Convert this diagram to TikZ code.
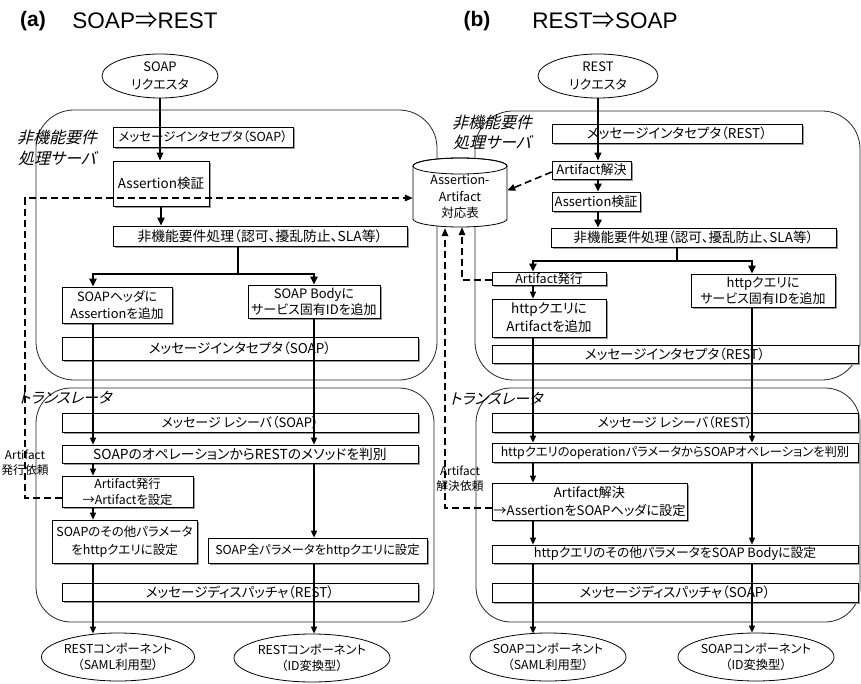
\documentclass[tikz,border=0pt]{standalone}
\usepackage{fontspec}
\setmainfont{Noto Sans CJK JP}[RawFeature={+palt}]
\newfontfamily\slantjp{Noto Sans CJK JP}[FakeSlant=0.25,RawFeature={+palt}]
\newfontfamily\titlefont{Liberation Sans}
\usetikzlibrary{arrows.meta,shapes.geometric,shadows}
\newcommand\myfs[2]{\fontsize{#1}{#2}\selectfont}

\begin{document}
\begin{tikzpicture}[x=1pt,y=-1pt,
  box/.style={draw=black, fill=white, line width=0.7pt, inner sep=0.5pt, align=center,
    font=\myfs{12.5}{15},
    drop shadow={shadow xshift=1.6pt, shadow yshift=-1.6pt, fill=black!40, opacity=1}},
  wh/.style 2 args={minimum width=#1pt, minimum height=#2pt},
  comp/.style={ellipse, draw=black, fill=white, line width=0.8pt, inner sep=0pt,
    align=center, font=\myfs{12.3}{16}},
  region/.style={draw=black!85, line width=0.8pt},
  lbl/.style={font=\slantjp\myfs{16}{21}, align=center, inner sep=0pt},
  note/.style={font=\myfs{11.8}{15}, align=center, inner sep=0pt},
  ttl/.style={font=\myfs{22.5}{24}, inner sep=0pt},
  flow/.style={line width=1.3pt, -{Triangle[length=7pt,width=6pt]}},
  flowr/.style={line width=1.8pt, -{Triangle[length=8pt,width=6.5pt]}},
  flowt/.style={line width=2.2pt, -{Triangle[length=8pt,width=7pt]}},
  plain/.style={line width=1.3pt},
  dasharr/.style={line width=1.6pt, dash pattern=on 7pt off 4pt,
    -{Triangle[length=8pt,width=6.5pt]}},
]
\useasboundingbox[fill=white] (0,0) rectangle (861,684);

% ---------- titles ----------
\node[ttl, font=\titlefont\bfseries\myfs{21}{24}] (ta) at (33,21) {(a)};
\node[ttl] (tta) at (145,21) {{\titlefont SOAP}⇒{\titlefont REST}};
\node[ttl, font=\titlefont\bfseries\myfs{21}{24}] (tb) at (477,21) {(b)};
\node[ttl] (ttb) at (605,21) {{\titlefont REST}⇒{\titlefont SOAP}};

% ---------- server / translator regions ----------
\draw[region, rounded corners=38pt] (36,110) rectangle (437,380);
\draw[region, rounded corners=35pt] (36,388) rectangle (434,622);
\draw[region, rounded corners=38pt] (475,111) rectangle (860,380);
\draw[region, rounded corners=35pt] (476,388) rectangle (860,622);

\node[lbl] (lsa) at (57,148) {非機能要件\\処理サーバ};
\node[lbl, font=\slantjp\myfs{15}{20}] (lta) at (65,398) {トランスレータ};
\node[lbl, font=\slantjp\myfs{16}{20}] (lsb) at (492,132) {非機能要件\\処理サーバ};
\node[lbl, font=\slantjp\myfs{15}{20}] (ltb) at (496,399) {トランスレータ};

% ---------- shared Assertion-Artifact table ----------
\path[draw=black, line width=0.8pt, fill=white]
  (413,166) -- (413,219)
  arc[start angle=180, end angle=360, x radius=47pt, y radius=8pt]
  -- (507,166)
  arc[start angle=0, end angle=180, x radius=47pt, y radius=8pt] -- cycle;
\draw[line width=0.8pt] (460,166) ellipse [x radius=47pt, y radius=8pt];
\node[minimum width=94pt, minimum height=69pt, inner sep=0pt] (db) at (460,192.5) {};
\node[note, font=\myfs{12.5}{16.5}] (dbt) at (460,197) {Assertion-\\Artifact\\対応表};

% ---------- (a) SOAP => REST ----------
\node[comp, minimum width=116pt, minimum height=44pt, font=\myfs{13}{18}] (req_a) at (160,76) {SOAP\\リクエスタ};
\node[box, wh={180}{20}] (ia1) at (203,137) {メッセージインタセプタ（SOAP）};
\node[box, wh={96}{45}, font=\myfs{13.5}{15}] (asv) at (161,183.5) {Assertion検証};
\node[box, wh={294}{20}, font=\myfs{13.8}{15}] (sla_a) at (260,236) {非機能要件処理（認可、擾乱防止、SLA等）};
\node[box, wh={110}{36}, font=\myfs{12.8}{17}] (hdr) at (117,305) {SOAPヘッダに\\Assertionを追加};
\node[box, wh={132}{33}, font=\myfs{13}{16}] (body) at (314,301.5) {SOAP Bodyに\\サービス固有IDを追加};
\node[box, wh={356}{23}, font=\myfs{13.5}{15}] (ia2) at (240,348.5) {メッセージインタセプタ（SOAP）};
\node[box, wh={356}{19}, font=\myfs{13}{15}] (rcv_a) at (240,422.5) {メッセージ レシーバ（SOAP）};
\node[box, wh={356}{18}, font=\myfs{13.8}{15}] (op_a) at (240,454) {SOAPのオペレーションからRESTのメソッドを判別};
\node[box, wh={131}{31}, font=\myfs{12.3}{16}] (art_a) at (127.5,491.5) {Artifact発行\\→Artifactを設定};
\node[box, wh={145}{43}, font=\myfs{12.5}{18}] (oth_a) at (124.5,541.5) {SOAPのその他パラメータ\\をhttpクエリに設定};
\node[box, wh={219}{25}, font=\myfs{12.3}{15}] (all_a) at (317.5,550.5) {SOAP全パラメータをhttpクエリに設定};
\node[box, wh={356}{18}, font=\myfs{13.5}{15}] (dsp_a) at (240,592) {メッセージディスパッチャ（REST）};
\node[comp, minimum width=146pt, minimum height=48pt] (samla) at (118,657) {RESTコンポーネント\\（SAML利用型）};
\node[comp, minimum width=156pt, minimum height=48pt] (ida) at (312,658) {RESTコンポーネント\\（ID変換型）};
\node[note] (nra) at (25,463) {Artifact\\発行依頼};

\coordinate (xa) at (93,0);
\coordinate (xb) at (314,0);
\coordinate (bra) at (238,274);

\draw[flowr] (req_a.south) -- (req_a.south |- asv.north);
\draw[flowt] (asv.south) -- (asv.south |- sla_a.north);
\draw[plain] (sla_a.south -| bra) -- (bra);
\draw[flowt] (bra) -| (hdr.north -| xa);
\draw[flowt] (bra) -| (body.north -| xb);
\draw[flow] (hdr.south -| xa) -- (op_a.north -| xa);
\draw[flow] (op_a.south -| xa) -- (art_a.north -| xa);
\draw[flow] (art_a.south -| xa) -- (oth_a.north -| xa);
\draw[flow] (oth_a.south -| xa) -- ([yshift=-1pt]samla.north -| xa);
\draw[flow] (body.south -| xb) -- (op_a.north -| xb);
\draw[flow] (op_a.south -| xb) -- (all_a.north -| xb);
\draw[flow] (all_a.south -| xb) -- (ida.north -| xb);

\coordinate (da1) at (25,498);
\coordinate (da2) at (25,198);
\draw[dasharr] ([yshift=-6.5pt]art_a.west) -- (da1) -- (da2) -- (db.west |- da2);

% ---------- (b) REST => SOAP ----------
\node[comp, minimum width=120pt, minimum height=44pt, font=\myfs{13}{18}] (req_b) at (598,76) {REST\\リクエスタ};
\node[box, wh={250}{19}, font=\myfs{13.5}{15}] (ib1) at (677,133.5) {メッセージインタセプタ（REST）};
\node[box, wh={79}{18}, font=\myfs{13}{15}] (ars1) at (591.5,170) {Artifact解決};
\node[box, wh={88}{19}, font=\myfs{13}{15}] (asv_b) at (596,201.5) {Assertion検証};
\node[box, wh={285}{19}, font=\myfs{13.5}{15}] (sla_b) at (693.5,237.5) {非機能要件処理（認可、擾乱防止、SLA等）};
\node[box, wh={114}{13}, font=\myfs{12.5}{12}] (aiss) at (549,278.5) {Artifact発行};
\node[box, wh={114}{38}, font=\myfs{13.5}{18}] (hqa) at (549,318) {httpクエリに\\Artifactを追加};
\node[box, wh={144}{33}, font=\myfs{13}{16}] (hqs) at (763,290.5) {httpクエリに\\サービス固有IDを追加};
\node[box, wh={366}{18}, font=\myfs{13.5}{15}] (ib2) at (675,354) {メッセージインタセプタ（REST）};
\node[box, wh={366}{19}, font=\myfs{13}{15}] (rcv_b) at (675,422.5) {メッセージ レシーバ（REST）};
\node[box, wh={366}{19}, font=\myfs{12.3}{15}] (op_b) at (675,452.5) {httpクエリのoperationパラメータからSOAPオペレーションを判別};
\node[box, wh={195}{37}, font=\myfs{13.2}{18}] (ars2) at (589.5,501.5) {Artifact解決\\→AssertionをSOAPヘッダに設定};
\node[box, wh={366}{18}, font=\myfs{12.8}{15}] (oth_b) at (675,554) {httpクエリのその他パラメータをSOAP Bodyに設定};
\node[box, wh={366}{19}, font=\myfs{13.5}{15}] (dsp_b) at (675,592.5) {メッセージディスパッチャ（SOAP）};
\node[comp, minimum width=140pt, minimum height=48pt] (samlb) at (548,657) {SOAPコンポーネント\\（SAML利用型）};
\node[comp, minimum width=140pt, minimum height=48pt] (idb) at (756,657) {SOAPコンポーネント\\（ID変換型）};
\node[note] (nrb) at (460,479) {Artifact\\解決依頼};

\coordinate (xc) at (533,0);
\coordinate (xd) at (752,0);
\coordinate (brb) at (677,261);

\draw[flowr] (req_b.south) -- (req_b.south |- ars1.north);
\draw[flowt] (ars1.south -| req_b.south) -- (asv_b.north -| req_b.south);
\draw[flowt] (asv_b.south -| req_b.south) -- (sla_b.north -| req_b.south);
\draw[plain] (sla_b.south -| brb) -- (brb);
\draw[flowt] (brb) -| (aiss.north -| xc);
\draw[flowt] (brb) -| (hqs.north -| xd);
\draw[flow] (aiss.south -| xc) -- (hqa.north -| xc);
\draw[flow] (hqa.south -| xc) -- (op_b.north -| xc);
\draw[flow] (op_b.south -| xc) -- (ars2.north -| xc);
\draw[flow] (ars2.south -| xc) -- (oth_b.north -| xc);
\draw[flow] (oth_b.south -| xc) -- ([yshift=-1pt]samlb.north -| xc);
\draw[flow] (hqs.south -| xd) -- (op_b.north -| xd);
\draw[flow] (op_b.south -| xd) -- (oth_b.north -| xd);
\draw[flow] (oth_b.south -| xd) -- (idb.north -| xd);

\draw[dasharr] ([yshift=-2pt]ars1.west) -- ([yshift=2pt]db.east);
\coordinate (db1) at (462,280);
\draw[dasharr] ([yshift=-1.5pt]aiss.west) -- (db1) -- (db1 |- db.south);
\coordinate (db2) at (445,508);
\draw[dasharr] ([yshift=-6.5pt]ars2.west) -- (db2) -- ([yshift=-1pt]db2 |- db.south);
\end{tikzpicture}
\end{document}
